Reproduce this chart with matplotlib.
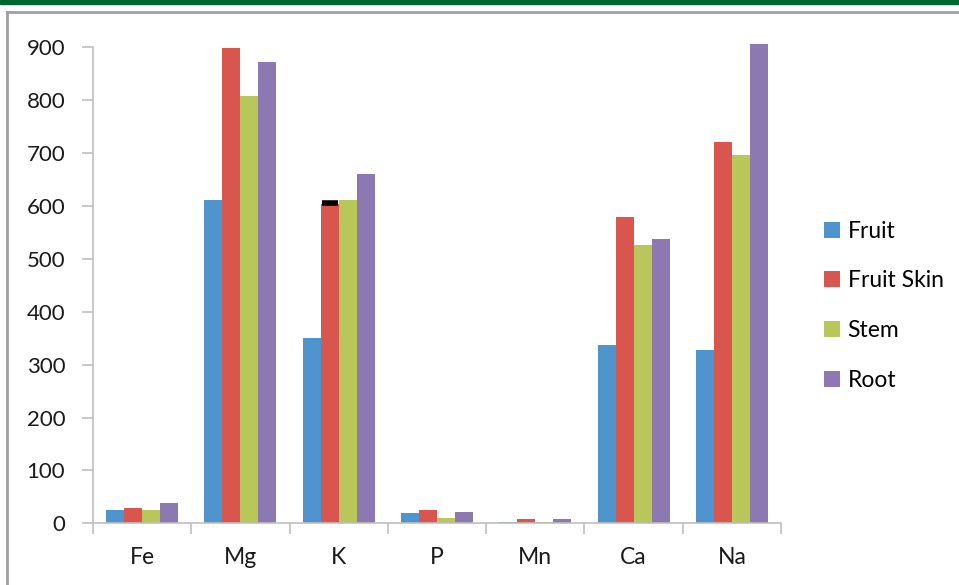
import matplotlib
matplotlib.use("Agg")
import matplotlib.pyplot as plt
import numpy as np

plt.rcParams['font.family'] = ['Lato', 'DejaVu Sans']

elements = ["Fe", "Mg", "K", "P", "Mn", "Ca", "Na"]
fruit = [25, 612, 350, 19, 3, 338, 327]
fruit_skin = [28, 898, 603, 26, 9, 579, 721]
stem = [25, 807, 611, 10, 3, 527, 696]
root = [39, 872, 660, 21, 9, 537, 907]
series_names = ["Fruit", "Fruit Skin", "Stem", "Root"]
colors = ["#4F94CD", "#D9564F", "#B9C75A", "#8C79B1"]
# small black mark sitting on the K / Fruit Skin bar
mark_elem = "K"
mark_value = 606
yticks = [0, 100, 200, 300, 400, 500, 600, 700, 800, 900]

fig = plt.figure(figsize=(9.59, 5.85), dpi=100)

# top green stripe and grey frame
fig.patches.append(plt.Rectangle((0, 1 - 4/585), 1, 4/585, transform=fig.transFigure,
                                 color="#006633", zorder=0))
fig.add_artist(plt.Line2D([7/959, 7/959], [0, 1 - 12/585], transform=fig.transFigure,
                          color="#A0A0A0", lw=2))
fig.add_artist(plt.Line2D([7/959, 1], [1 - 12/585, 1 - 12/585], transform=fig.transFigure,
                          color="#A0A0A0", lw=2))

ax = fig.add_axes([93/959, 1 - 523.3/585, (781 - 93)/959, 476/585])

x = np.arange(len(elements))
w = 0.183
data = [fruit, fruit_skin, stem, root]
for i, (vals, name, c) in enumerate(zip(data, series_names, colors)):
    ax.bar(x + (i - 1.5) * w, vals, w, color=c, label=name, clip_on=False, zorder=2)

k = elements.index(mark_elem)
ax.plot([x[k] - 0.5 * w], [mark_value], marker="_", ms=12, mew=4, color="black",
        clip_on=False, zorder=3)

ax.set_xlim(-0.5, len(elements) - 0.5)
ax.set_ylim(0, 900)
ax.set_yticks(yticks)
ax.set_yticklabels([str(v) for v in yticks], fontsize=16, color="#1a1a1a")
ax.set_xticks(x)
ax.set_xticklabels(elements, fontsize=16.5, color="#1a1a1a")
ax.set_xticks(np.arange(len(elements) + 1) - 0.5, minor=True)
ax.tick_params(axis="x", which="major", length=0, pad=17)
ax.tick_params(axis="x", which="minor", length=8, color="#BFBFBF", width=1.2)
ax.tick_params(axis="y", length=8, color="#BFBFBF", width=1.2, pad=12)

for s in ["top", "right"]:
    ax.spines[s].set_visible(False)
for s in ["left", "bottom"]:
    ax.spines[s].set_color("#BFBFBF")
    ax.spines[s].set_linewidth(1.2)

fig.legend(loc="upper left", bbox_to_anchor=(803/959, 1 - 200/585), frameon=False,
           fontsize=16.5, handlelength=0.7, handleheight=0.7, handletextpad=0.35,
           labelspacing=1.25)

fig.savefig("out.png", dpi=100)
